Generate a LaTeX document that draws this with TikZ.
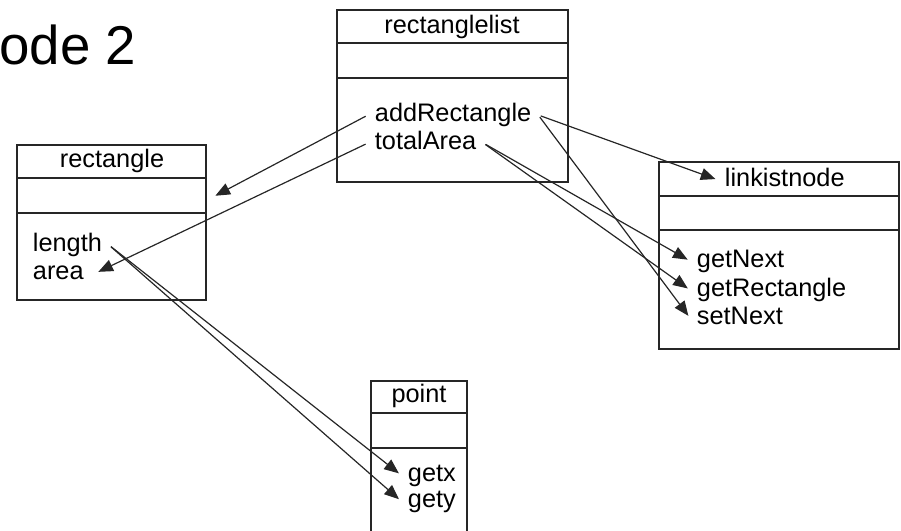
\documentclass[tikz,border=0pt]{standalone}
\usepackage{fontspec}
\setmainfont{Liberation Sans}
\usetikzlibrary{arrows.meta}

\begin{document}
\begin{tikzpicture}[x=0.75pt,y=-0.75pt,>={Triangle[length=11pt,width=9pt]},
    box/.style={line width=1.4pt,draw=black!85},
    title/.style={font=\fontsize{19}{21}\selectfont,inner xsep=0pt,inner ysep=0pt,text height=14pt,text depth=4pt},
    member/.style={font=\fontsize{19}{21}\selectfont,anchor=west,inner xsep=5pt,inner ysep=0pt,text height=14pt,text depth=4pt},
    call/.style={->,line width=0.9pt,draw=black!85,shorten <=2pt,shorten >=2pt}]

    \clip (0,0) rectangle (901,531);

    % Heading (cut at the left edge)
    \node[font=\fontsize{41}{45}\selectfont,anchor=base west,inner sep=0pt] (heading) at (-1,65) {ode 2};

    % Boxes
    % rectanglelist
    \draw[box] (337,10) rectangle (568,182);
    \draw[box] (337,43) -- (568,43);
    \draw[box] (337,78) -- (568,78);
    % rectangle
    \draw[box] (17,145) rectangle (206,300);
    \draw[box] (17,178) -- (206,178);
    \draw[box] (17,213) -- (206,213);
    % linkistnode
    \draw[box] (659,162) rectangle (899,349);
    \draw[box] (659,196) -- (899,196);
    \draw[box] (659,230) -- (899,230);
    % point
    \draw[box] (371,381) rectangle (467,545);
    \draw[box] (371,413) -- (467,413);
    \draw[box] (371,448) -- (467,448);

    % Nodes
    % rectanglelist
    \node[title] (rltitle) at (452,27) {rectanglelist};
    \node[member] (addrect) at (368,115) {addRectangle};
    \node[member] (totarea) at (368,143) {totalArea};

    % rectangle
    \node[title] (recttitle) at (112,161) {rectangle};
    \coordinate (rectin) at (213,197);
    \node[member] (length) at (26,245) {length};
    \node[member] (area) at (26,273) {area};

    % linkistnode
    \node[member] (lknode) at (718,180) {linkistnode};
    \node[member] (getnext) at (690,261) {getNext};
    \node[member] (getrect) at (690,290) {getRectangle};
    \node[member] (setnext) at (690,318) {setNext};

    % point
    \node[title] (pttitle) at (419,396) {point};
    \node[member] (getx) at (401,475) {getx};
    \node[member] (gety) at (401,501) {gety};

    % Calls
    \draw[call] (addrect.west) -- (rectin);
    \draw[call] (totarea.west) -- ([xshift=4pt]area.east);
    \draw[call] (addrect.east) -- (lknode.west);
    \draw[call] (addrect.east) -- (setnext.west);
    \draw[call] (totarea.east) -- (getnext.west);
    \draw[call] (totarea.east) -- (getrect.west);
    \draw[call] (length.east) -- (getx.west);
    \draw[call] (length.east) -- (gety.west);
\end{tikzpicture}
\end{document}
